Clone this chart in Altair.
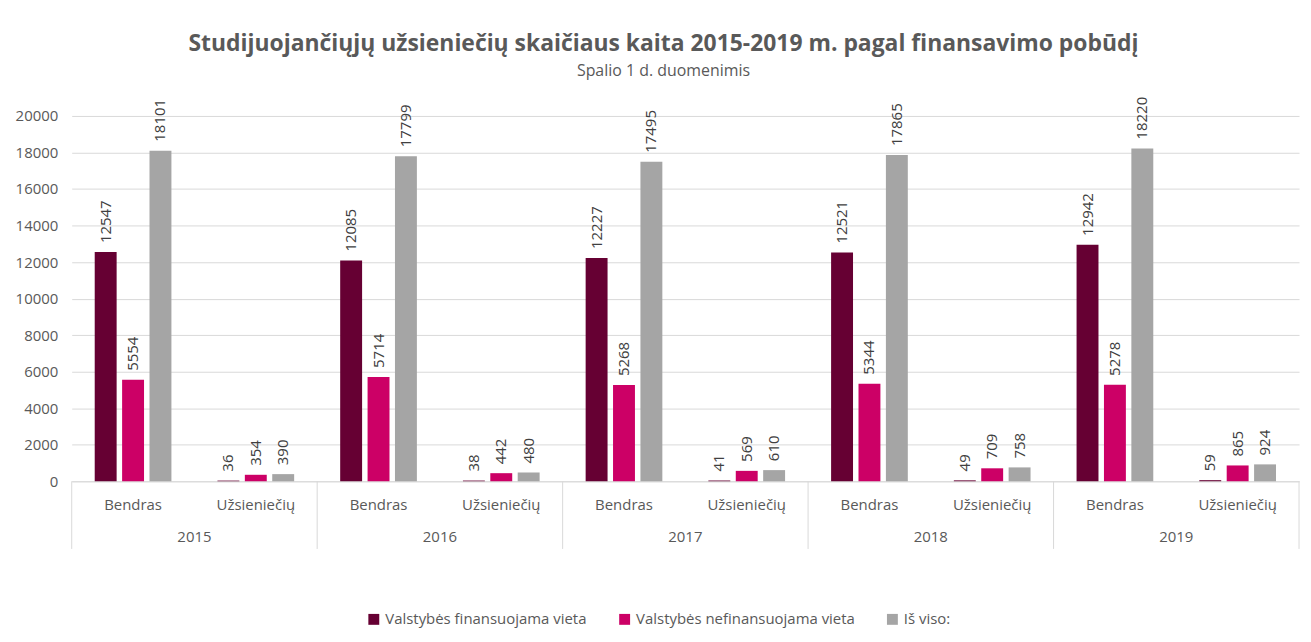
import altair as alt
import pandas as pd

years = ["2015", "2016", "2017", "2018", "2019"]
categories = ["Bendras", "Užsieniečių"]
series = ["Valstybės finansuojama vieta", "Valstybės nefinansuojama vieta", "Iš viso:"]
colors = ["#660033", "#CC0066", "#A5A5A5"]

# values[year][category] = [finansuojama, nefinansuojama, is viso]
bendras = {
    "2015": [12547, 5554, 18101],
    "2016": [12085, 5714, 17799],
    "2017": [12227, 5268, 17495],
    "2018": [12521, 5344, 17865],
    "2019": [12942, 5278, 18220],
}
uzsienieciu = {
    "2015": [36, 354, 390],
    "2016": [38, 442, 480],
    "2017": [41, 569, 610],
    "2018": [49, 709, 758],
    "2019": [59, 865, 924],
}
y_ticks = list(range(0, 20001, 2000))

FONT = "Open Sans"
TXT = "#595959"
GRID = "#D9D9D9"
W, H = 1233, 367
FS = 15

rows = []
for y in years:
    for c, src in zip(categories, [bendras, uzsienieciu]):
        for s, v in zip(series, src[y]):
            rows.append({"key": f"{y}|{c}", "year": y, "cat": c, "series": s, "value": v})
df = pd.DataFrame(rows)
keys = [f"{y}|{c}" for y in years for c in categories]

year_df = pd.DataFrame({"year": years, "key": [f"{y}|Bendras" for y in years]})
last_df = pd.DataFrame({"key": [f"{years[-1]}|Užsieniečių"]})

xscale = alt.Scale(domain=keys, paddingInner=0, paddingOuter=0)
xoff = alt.Scale(domain=series, paddingInner=0.2, paddingOuter=0.84)
yscale = alt.Scale(domain=[0, 20000], nice=False)

X = alt.X("key:N", scale=xscale, sort=keys,
          axis=alt.Axis(title=None, labelExpr="split(datum.value, '|')[1]",
                        labelAngle=0, ticks=False, domain=True, domainColor=GRID,
                        labelFont=FONT, labelFontSize=FS, labelColor=TXT,
                        labelPadding=16, grid=False))
XO = alt.XOffset("series:N", scale=xoff, sort=series)
Y = alt.Y("value:Q", scale=yscale,
          axis=alt.Axis(title=None, values=y_ticks, format="d", domain=False,
                        ticks=False, gridColor=GRID, labelFont=FONT,
                        labelFontSize=FS, labelColor=TXT, labelPadding=14,
                        labelOverlap=False, tickCount=11))
color = alt.Color("series:N", scale=alt.Scale(domain=series, range=colors),
                  sort=series,
                  legend=alt.Legend(title=None, orient="none", direction="horizontal",
                                    legendX=296, legendY=498, symbolType="square",
                                    symbolSize=120, symbolStrokeWidth=0,
                                    labelFont=FONT, labelFontSize=FS, labelColor=TXT,
                                    columnPadding=30, labelLimit=400))

base = alt.Chart(df)

bars = base.mark_bar().encode(x=X, xOffset=XO, y=Y, color=color)

labels = base.mark_text(angle=270, align="left", baseline="middle", dx=9,
                        font=FONT, fontSize=FS, color="#404040").encode(
    x=X, xOffset=XO, y=Y,
    text=alt.Text("value:Q", format="d"),
)

year_text = alt.Chart(year_df).mark_text(font=FONT, fontSize=FS, color=TXT,
                                         baseline="middle").encode(
    x=alt.X("key:N", scale=xscale, sort=keys, bandPosition=1),
    y=alt.value(H + 56),
    text="year:N",
)

seps = alt.Chart(year_df).mark_rule(color=GRID, strokeWidth=1).encode(
    x=alt.X("key:N", scale=xscale, sort=keys, bandPosition=0),
    y=alt.value(H), y2=alt.value(H + 68),
)
sep_last = alt.Chart(last_df).mark_rule(color=GRID, strokeWidth=1).encode(
    x=alt.X("key:N", scale=xscale, sort=keys, bandPosition=1),
    y=alt.value(H), y2=alt.value(H + 68),
)

chart = alt.layer(bars, labels, seps, sep_last, year_text).properties(
    width=W, height=H,
    title=alt.TitleParams(
        "Studijuojančiųjų užsieniečių skaičiaus kaita 2015-2019 m. pagal finansavimo pobūdį",
        subtitle="Spalio 1 d. duomenimis",
        font=FONT, fontSize=23, fontWeight="bold", color=TXT,
        subtitleFont=FONT, subtitleFontSize=16, subtitleColor=TXT,
        anchor="middle", dx=-22, offset=18, subtitlePadding=7,
    ),
    autosize=alt.AutoSizeParams(type="none"),
    padding={"left": 64, "top": 107, "right": 4, "bottom": 150},
).configure_view(stroke=None)

chart.save("out.html", embed_options={"renderer": "svg", "actions": False})
